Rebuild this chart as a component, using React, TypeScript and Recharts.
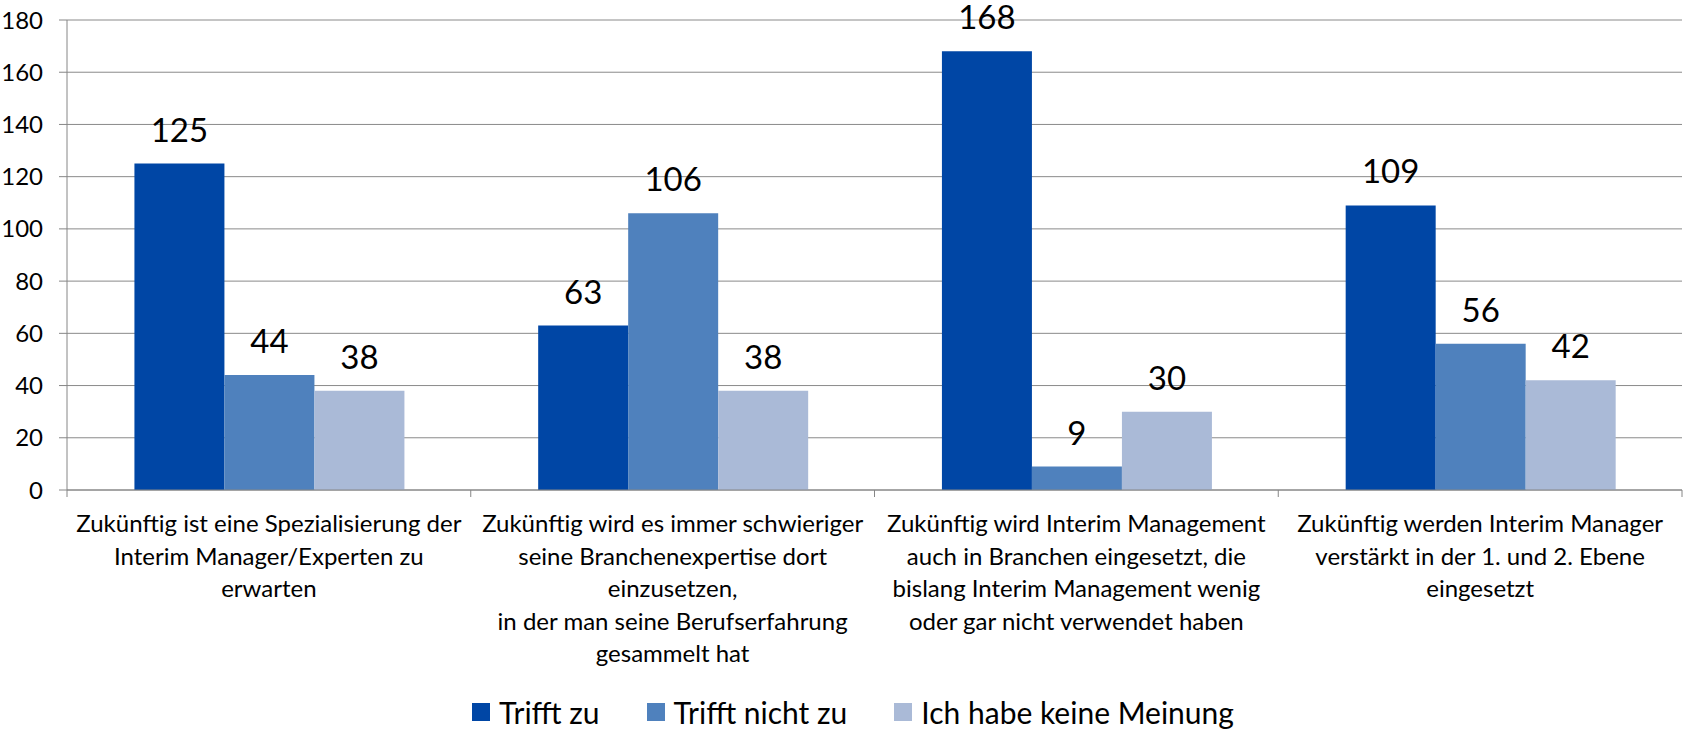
import React from 'react';
import { BarChart, Bar, XAxis, YAxis, CartesianGrid, Legend, LabelList } from 'recharts';

const categories = [
  'Zukünftig ist eine Spezialisierung der\nInterim Manager/Experten zu\nerwarten',
  'Zukünftig wird es immer schwieriger\nseine Branchenexpertise dort\neinzusetzen,\nin der man seine Berufserfahrung\ngesammelt hat',
  'Zukünftig wird Interim Management\nauch in Branchen eingesetzt, die\nbislang Interim Management wenig\noder gar nicht verwendet haben',
  'Zukünftig werden Interim Manager\nverstärkt in der 1. und 2. Ebene\neingesetzt',
];
const trifftZu = [125, 63, 168, 109];
const trifftNichtZu = [44, 106, 9, 56];
const keineMeinung = [38, 38, 30, 42];
const yTicks = [0, 20, 40, 60, 80, 100, 120, 140, 160, 180];
const seriesNames = ['Trifft zu', 'Trifft nicht zu', 'Ich habe keine Meinung'];
const seriesKeys = ['a', 'b', 'c'];
const colors = ['#0046A5', '#4F81BD', '#AABAD7'];

const data = categories.map((name, i) => ({
  name,
  a: trifftZu[i],
  b: trifftNichtZu[i],
  c: keineMeinung[i],
}));

const FONT = 'Lato, sans-serif';
const AXIS = '#868686';

function CatTick(props: any) {
  const { x, y, payload, index, visibleTicksCount, width } = props;
  const half = payload && payload.offset != null ? payload.offset : width / visibleTicksCount / 2;
  const lines = String(payload.value).split('\n');
  return (
    <g>
      <line x1={x - half} x2={x - half} y1={y} y2={y + 7} stroke={AXIS} strokeWidth={1} />
      {index === visibleTicksCount - 1 && (
        <line x1={x + half} x2={x + half} y1={y} y2={y + 7} stroke={AXIS} strokeWidth={1} />
      )}
      <text x={x} y={y} textAnchor="middle" fontFamily={FONT} fontSize={24} fill="#000">
        {lines.map((l, i) => (
          <tspan key={i} x={x} y={y + 42 + i * 32.5}>
            {l}
          </tspan>
        ))}
      </text>
    </g>
  );
}

function LegendBox() {
  return (
    <div style={{ height: 50, width: '100%', boxSizing: 'border-box', paddingLeft: 24, paddingTop: 20 }}>
      <div
        style={{
          height: 24,
          display: 'flex',
          justifyContent: 'center',
          alignItems: 'center',
          fontFamily: FONT,
          fontSize: 30,
          color: '#000',
        }}
      >
        {seriesNames.map((n, i) => (
          <div key={n} style={{ display: 'flex', alignItems: 'center', marginLeft: i === 0 ? 0 : 47 }}>
            <div style={{ width: 18, height: 18, background: colors[i], marginRight: 9 }} />
            <span style={{ lineHeight: '24px', whiteSpace: 'nowrap' }}>{n}</span>
          </div>
        ))}
      </div>
    </div>
  );
}

export default function App() {
  return (
    <div style={{ position: 'absolute', left: 0, top: 0, width: 1684, height: 730, background: '#fff' }}>
      <BarChart
        width={1684}
        height={730}
        data={data}
        margin={{ top: 20, right: 2, bottom: 0, left: 0 }}
        barCategoryGap="16.7%"
        barGap={0}
      >
        <CartesianGrid vertical={false} stroke="#8a8a8a" strokeWidth={1} />
        <XAxis
          dataKey="name"
          interval={0}
          height={190}
          tickSize={0}
          tickMargin={0}
          tickLine={false}
          axisLine={{ stroke: AXIS, strokeWidth: 1 }}
          tick={<CatTick />}
        />
        <YAxis
          width={67}
          domain={[0, 180]}
          ticks={yTicks}
          interval={0}
          tickSize={8}
          tickMargin={16}
          axisLine={{ stroke: AXIS, strokeWidth: 1 }}
          tickLine={{ stroke: AXIS, strokeWidth: 1 }}
          tick={{ fontFamily: FONT, fontSize: 24, fill: '#000' }}
        />
        <Legend verticalAlign="bottom" wrapperStyle={{ height: 50 }} content={() => <LegendBox />} />
        {seriesKeys.map((k, i) => (
          <Bar key={k} dataKey={k} name={seriesNames[i]} fill={colors[i]} isAnimationActive={false}>
            <LabelList
              dataKey={k}
              position="top"
              offset={22}
              fill="#000"
              fontFamily={FONT}
              fontSize={33}
            />
          </Bar>
        ))}
      </BarChart>
    </div>
  );
}
